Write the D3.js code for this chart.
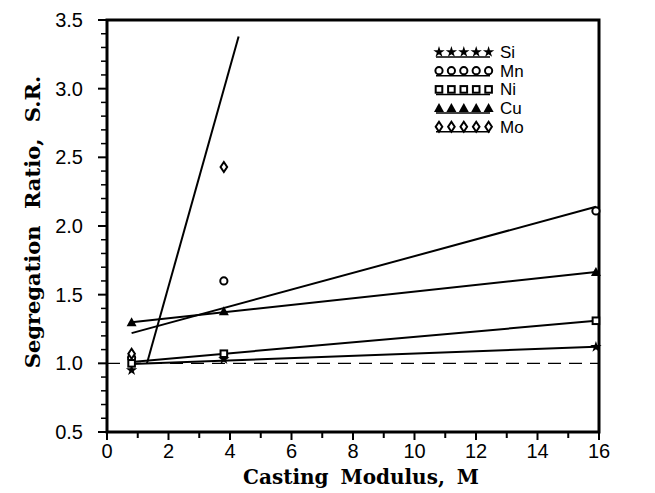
<!DOCTYPE html>
<html lang="en">
<head>
<meta charset="UTF-8">
<title>Segregation ratio vs casting modulus</title>
<style>
  body { margin: 0; background: #fff; }
  .tick-label { font-family: "Liberation Sans", Arial, sans-serif; font-size: 20px; fill: #000; }
  .axis-title { font-family: "DejaVu Serif", serif; font-weight: bold; font-size: 20px; fill: #000; }
  .legend-text { font-family: "Liberation Sans", Arial, sans-serif; font-size: 17px; fill: #000; }
</style>
<script src="https://d3js.org/d3.v7.min.js"></script>
</head>
<body>
<script>
// casting modulus of the three castings
const modulus = [0.8, 3.8, 15.9];
// segregation ratios per element
const si = [0.95, 1.03, 1.12];
const mn = [1.04, 1.60, 2.11];
const ni = [1.00, 1.07, 1.31];
const cu = [1.30, 1.38, 1.665];
const mo = [1.07, 2.43];
// fitted lines, [x, y] end points
const fitSi = [[0.8, 0.995], [15.9, 1.12]];
const fitMn = [[0.8, 1.22], [15.9, 2.14]];
const fitNi = [[0.8, 1.01], [15.9, 1.31]];
const fitCu = [[0.8, 1.30], [15.9, 1.665]];
const fitMo = [[1.3, 1.0], [4.28, 3.38]];
const elements = ["Si", "Mn", "Ni", "Cu", "Mo"];
const xTicks = [0, 2, 4, 6, 8, 10, 12, 14, 16];
const yTicks = [0.5, 1.0, 1.5, 2.0, 2.5, 3.0, 3.5];

const w = 655, h = 493;
const padL = 107, padR = 599, padT = 20, padB = 432;

const svg = d3.select("body").append("svg")
  .attr("width", w).attr("height", h);

const x = d3.scaleLinear().domain([0, 16]).range([padL, padR]);
const y = d3.scaleLinear().domain([0.5, 3.5]).range([padB, padT]);

// minor + major ticks
const xMinor = d3.range(1, 16, 2);
const yMinor = d3.range(5, 36).map(d => d / 10).filter(d => Math.round(d * 10) % 5 !== 0);

svg.append("g").selectAll("line").data(xTicks).join("line")
  .attr("x1", d => x(d)).attr("x2", d => x(d))
  .attr("y1", padB).attr("y2", padB + 8)
  .attr("stroke", "#000").attr("stroke-width", 2);
svg.append("g").selectAll("line").data(xMinor).join("line")
  .attr("x1", d => x(d)).attr("x2", d => x(d))
  .attr("y1", padB).attr("y2", padB + 6)
  .attr("stroke", "#000").attr("stroke-width", 2);
svg.append("g").selectAll("line").data(yTicks).join("line")
  .attr("x1", padL - 9).attr("x2", padL)
  .attr("y1", d => y(d)).attr("y2", d => y(d))
  .attr("stroke", "#000").attr("stroke-width", 2);
svg.append("g").selectAll("line").data(yMinor).join("line")
  .attr("x1", padL - 6).attr("x2", padL)
  .attr("y1", d => y(d)).attr("y2", d => y(d))
  .attr("stroke", "#000").attr("stroke-width", 1.5);

svg.append("g").selectAll("text").data(xTicks).join("text")
  .attr("class", "tick-label")
  .attr("x", d => x(d)).attr("y", padB + 26)
  .attr("text-anchor", "middle")
  .text(d => d);
svg.append("g").selectAll("text").data(yTicks).join("text")
  .attr("class", "tick-label")
  .attr("x", padL - 24).attr("y", d => y(d) + 7)
  .attr("text-anchor", "end")
  .text(d => d.toFixed(1));

// frame
svg.append("rect")
  .attr("x", padL).attr("y", padT)
  .attr("width", padR - padL).attr("height", padB - padT)
  .attr("fill", "none").attr("stroke", "#000").attr("stroke-width", 3);

// axis titles
svg.append("text").attr("class", "axis-title")
  .attr("x", 361).attr("y", 484)
  .attr("text-anchor", "middle")
  .attr("word-spacing", 5)
  .text("Casting Modulus, M");
svg.append("text").attr("class", "axis-title")
  .style("font-size", "21px")
  .attr("transform", "translate(40,222) rotate(-90)")
  .attr("text-anchor", "middle")
  .attr("word-spacing", 9)
  .text("Segregation Ratio, S.R.");

// reference line at S.R. = 1
svg.append("line")
  .attr("x1", x(0)).attr("x2", x(16))
  .attr("y1", y(1)).attr("y2", y(1))
  .attr("stroke", "#000").attr("stroke-width", 1.3)
  .attr("stroke-dasharray", "13,8");

// fit lines
const line = d3.line().x(d => x(d[0])).y(d => y(d[1]));
[fitSi, fitMn, fitNi, fitCu, fitMo].forEach(f => {
  svg.append("path").attr("d", line(f))
    .attr("fill", "none").attr("stroke", "#000").attr("stroke-width", 2);
});

// marker drawing
function marker(g, kind, cx, cy) {
  if (kind === "Si") {
    g.append("path").attr("d", d3.symbol(d3.symbolStar, 40)())
      .attr("transform", `translate(${cx},${cy})`).attr("fill", "#000");
  } else if (kind === "Mn") {
    g.append("circle").attr("cx", cx).attr("cy", cy).attr("r", 3.6)
      .attr("fill", "#fff").attr("stroke", "#000").attr("stroke-width", 2);
  } else if (kind === "Ni") {
    g.append("rect").attr("x", cx - 3.3).attr("y", cy - 3.3).attr("width", 6.6).attr("height", 6.6)
      .attr("fill", "#fff").attr("stroke", "#000").attr("stroke-width", 2);
  } else if (kind === "Cu") {
    g.append("path").attr("d", `M${cx},${cy - 5}L${cx + 5},${cy + 4}L${cx - 5},${cy + 4}Z`)
      .attr("fill", "#000");
  } else {
    g.append("path").attr("d", `M${cx},${cy - 5}L${cx + 3.3},${cy}L${cx},${cy + 5}L${cx - 3.3},${cy}Z`)
      .attr("fill", "#fff").attr("stroke", "#000").attr("stroke-width", 2);
  }
}

const series = [si, mn, ni, cu, mo];
const pts = svg.append("g");
series.forEach((vals, k) => {
  vals.forEach((v, i) => marker(pts, elements[k], x(modulus[i]), y(v)));
});

// legend
const leg = svg.append("g");
elements.forEach((el, k) => {
  const ly = 52 + k * 18.7;
  leg.append("line").attr("x1", 436).attr("x2", 490)
    .attr("y1", ly + 5).attr("y2", ly + 5)
    .attr("stroke", "#000").attr("stroke-width", 1.5);
  for (let i = 0; i < 5; i++) marker(leg, el, 439 + i * 12.4, ly);
  leg.append("text").attr("class", "legend-text")
    .attr("x", 500).attr("y", ly + 6).text(el);
});
</script>
</body>
</html>
